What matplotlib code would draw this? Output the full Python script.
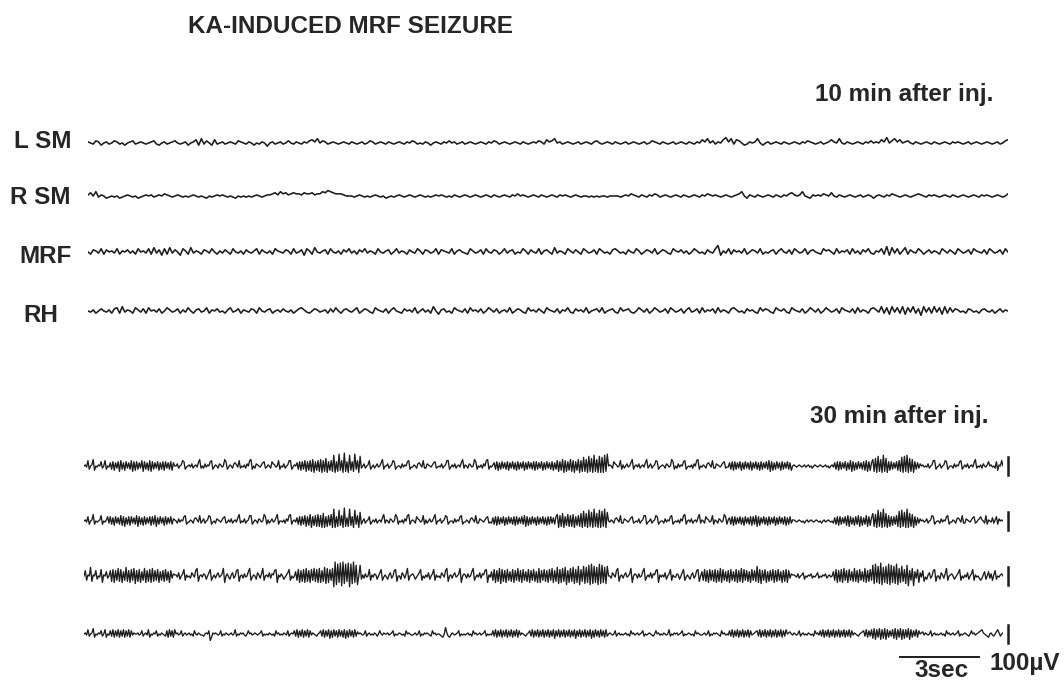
import numpy as np
import matplotlib.pyplot as plt

plt.rcParams['font.family'] = ['Liberation Sans', 'DejaVu Sans']

title = "KA-INDUCED MRF SEIZURE"
channels = ["L SM", "R SM", "MRF", "RH"]
panel_titles = ["10 min after inj.", "30 min after inj."]
duration_s = 35.0      # length of each sweep
cal_uv = 100           # vertical calibration
cal_s = 3              # horizontal calibration
step_uv = 6            # one letter step in the trace strings, 'm' = 0 uV

# traces, one letter per sample (a = -12 steps ... z = +13 steps)
# 10 min sweeps: 350 samples each
early_lsm = ("nmlonkmnlm" "onlmkmnolm" "nmlmnolkmn" "lmnomlmnkm" "npkqlomkpl"
             "mnlmnmlonm" "lnmkmlnmjm" "nlmnlmomln" "mlnmopnqmo" "nlmnmlmnml"
             "nmlmnlmonl" "mnmlnmlmnm" "lnmonlmlnm" "kmnmlnmomn" "lmnlmnmlmn"
             "mlnmonlmnm" "lmnmlnmlmn" "monlpnoqmn" "lmnmlmnlmn" "mlnomlmnml"
             "nmlmnlmnml" "mnlmonmlnm" "lmnlmnmlnm" "lnmpnqmoln" "mprnqlpomk"
             "lnmnqmkmnl" "mnmlnmlmnm" "lnmonmlmnl" "mnpnmqmlnm" "lmnmlnmomn"
             "mpnrmoqnpm" "nomlnmlmnm" "lnmlmnmlnm" "nmlmnlmnml" "mnmlmnlmop")
early_rsm = ("npmqlnmklm" "lmklmnmlmk" "lmnmnlmnmo" "nmlmnmlmlm" "nmlmlkmlmn"
             "mnmlmlkmlm" "lmlmnmlmnn" "opnqopnopo" "onpoopnooq" "prqpooonmm"
             "mlmnmlmlmn" "mlmklmlmnm" "lmnmlmnmlm" "lmnmnmlmln" "mlmnmlmnml"
             "mnmlnmlmnm" "lnmomnmlmn" "mlnmlmnmln" "mnmlmnmlmm" "lmlmlmmlmm"
             "mmlmnmonml" "nmlnmonlmn" "mlmnmlnmlm" "nmlnmonmnm" "lmnmlmnoqm"
             "knmlnmlmnm" "lnmlnmopnm" "nqmlknmnmo" "nmpmlnmlmn" "mlmnlmnmkm"
             "nmlnmonmlm" "nmlmnonmln" "mnmlmnmlnm" "lmnmlmnmln" "mnmlmnmlmo")
early_mrf = ("mkonlpkomn" "lpknmolnkp" "mnlpkqlojp" "kqlomjpnkq" "lnmkonlpmk"
             "nlomkpmlnk" "omlnpkomln" "kpnmlonkpl" "mojpnkqmln" "okpmlnkomp"
             "lnkomplnmk" "pmlnokmpln" "mkomlpnkon" "lmpkonmlpk" "nomlkpnlmo"
             "kpmlonkmpl" "nokmlpnkom" "lpknomkqln" "mkpnlomkpn" "lmokpnlmko"
             "pnlmkomlpn" "kmonlpkmon" "lkpnmolnkm" "pnlmkomlps" "jnlpkomnlp"
             "kmonlpkmln" "oknpmlokpn" "lmpknomlkp" "nomkplnmok" "plnkomplkn"
             "mpkrjqlpkn" "qkomlpnkmo" "lnmkpnlomk" "pnlmokpnml" "okpnlmokpm")
early_rh = ("mlnkmomlnk" "opkqlnmkpn" "lokpmnlokm" "pnlmoknlpm" "knolmpknmo"
            "lmknplmokn" "mlonkpmlno" "kmnlomlnkm" "opnlkmonlm" "nkolpmknom"
            "lnpkmonlkp" "nmloknpmlk" "omnlpkmoln" "kqmjnolmkp" "nmlokpmnlo"
            "kmpnlokmnl" "pkmonlkpmn" "lomkpnmlok" "nmplkomnlp" "kmnolpkmno"
            "lkpmnolkmp" "nlokmpnlmo" "kpnlmoknpl" "mokplnmokp" "lnmkopnlmk"
            "omnlkpmonl" "kpnmolkpnm" "lokmpnlokm" "pnlmokpnml" "okplnmkopn"
            "lqkpjqlpkq" "jplqkoiqlp" "kqlpjqkplo" "nlmkonlmkn" "omlnkmolnm")

# 30 min sweeps: 700 samples each (denser, to hold the bursts)
late_lsm = ("mnlrjmnsim" "lnmqkmrjml" "pjqipkqhrj" "piqkpjrhqi" "qjpkrhqjpi"
            "rhqjpkqipj" "qiqkpjqipm" "mokmnrqjlm" "nlokmnlpsk" "mkolnmqrjl"
            "nmkonlmsqj" "lnmkopnlrk" "mlnkomrsjm" "konmlnpqkl" "nmkqonlmrj"
            "mlokmnrrjl" "nmpjqiqjrh" "qirhsgqirh" "sgrhtgqirh" "wgqhxirgyh"
            "qgwiqhxjrg" "vkmokmnrjl" "nkmolmpsjm" "mokmnrqjlm" "mkolnmqrjl"
            "lnmkopnlrk" "konmlnpqkl" "mlokmnrrjl" "nlokmnlpsk" "nmkonlmsqj"
            "mlnkomrsjm" "lnpjqipjqk" "pjqipkqjpi" "qjpkqipjqk" "pjqiqjpkqi"
            "pjqkpjqipj" "rhqisgrhqi" "shrgqisgrh" "uhsgvhtgwh" "sgvgugwhxm"
            "nmkqonlmrj" "nkmolmpsjm" "nlokmnlpsk" "mokmnrqjlm" "nmkonlmsqj"
            "mkolnmqrjl" "mlnkomrsjm" "lnmkopnlrk" "konmlnpqkl" "lpjqiqjpkq"
            "ipjqkpjqip" "kqjpiqjpkq" "jrhqipjqkp" "iqjpkqjpim" "nmlmnmlmnl"
            "mnlmkmnmlm" "nmlmnlmkmn" "lpjqiqjpkq" "ipjrhqipjq" "kpjqirhqip"
            "shtgvhsgwh" "tgqiqjpkqi" "rhugvhwgth" "sgqjpkomnl" "mlokmnrrjl"
            "mokmnrqjlm" "mkolnmqrjl" "nlokmnlpsk" "mlnkomlnqm" "nlmkqinmrm")
late_rsm = ("mnlqjmnsjm" "lmnrjmlnqk" "qjpiqkpjri" "qhpjqiqkpj" "rhqjpiqjpk"
            "qiqjrhpjqk" "piqjpkqjon" "mkolnmqrjl" "lnmkopnlrk" "mokmnrqjlm"
            "konmlnpqkl" "nlokmnlpsk" "mlokmnrrjl" "nmkonlmsqj" "nkmolmpsjm"
            "mlnkomrsjm" "nlpjqiqjrh" "qisgqirhsh" "rgtgqhrisg" "xgqhwirgyh"
            "phxiqgwjrg" "ujmokmnqjl" "nlokmnlpsk" "nmkonlmsqj" "mlnkomrsjm"
            "nmkqonlmrj" "nkmolmpsjm" "mokmnrqjlm" "mkolnmqrjl" "lnmkopnlrk"
            "konmlnpqkl" "kpjqiqjpkq" "ipjqkpjqiq" "jpkqjrhqip" "jqkpiqjpkq"
            "jpiqjqkpjq" "sgrhtgqish" "rhsgqirhtg" "vhtgwhugxh" "tgwgvhxgum"
            "lnmkopnlrk" "konmlnpqkl" "mlokmnrrjl" "mokmnrqjlm" "mkolnmqrjl"
            "mlnkomrsjm" "nlokmnlpsk" "nmkqonlmrj" "nmkonlmsqj" "npjqiqjpkq"
            "jpiqkpjqiq" "jrhqipkqjp" "iqjpkqipjq" "kpjqipjqkn" "nmlmnmlmkm"
            "nlmnmlmnml" "mkmnlmnmlm" "kpjqiqjpkq" "irhqjpiqjr" "hqipjrhqip"
            "thsgwhugxh" "tgrhqiqjrh" "vgwhugxgth" "sgqipkomnl" "mokmnrqjlm"
            "mkolnmqrjl" "lnmkopnlrk" "konmlnpqkl" "noqnmkrjnm" "lpknqjomnm")
late_mrf = ("mrinmuhnmr" "jmlsgnmqkm" "rhsgrithsg" "qiuhrgsitf" "rhsgqitgrh"
            "sgthrisgqi" "rhsiqgrkon" "nlpjmosinl" "mkpnlrthmn" "lonjmpsiln"
            "knplmotgmo" "ljnpkmrshm" "nkolmqtiln" "mjpnkotimn" "lpkonrsgnl"
            "omjlnpsimk" "mqisgrhsgt" "hrgsithsgt" "grhuftgsit" "czexgydzfx"
            "hycxfzgwem" "wjnkolmsin" "lonjmpsiln" "ljnpkmrshm" "mjpnkotimn"
            "omjlnpsimk" "nlpjmosinl" "mkpnlrthmn" "knplmotgmo" "nkolmqtiln"
            "lpkonrsgnl" "qisgrhtfsh" "rgsiqhsgri" "thrgsiqhsg" "rishqgtgri"
            "shrgsitgrh" "ufsgthuerg" "thufsgvesh" "vfugwexfvg" "uexfwgufvm"
            "mkpnlrthmn" "knplmotgmo" "nkolmqtiln" "lpkonrsgnl" "nlpjmosinl"
            "lonjmpsiln" "ljnpkmrshm" "qishrgsirh" "sgrhtgsiqh" "rgsiqhsgrh"
            "tgsirhqgsi" "rhvgsfrisg" "qhrisgrhsi" "qgrhsgrkon" "nmlokmnpjm"
            "lnmokmlnpk" "mlnmokmnlm" "qisgrhsgti" "rgsiqhthrg" "siqhtgrhsi"
            "wfxgvfyeug" "vfxewgvfxe" "tgvhsfwdri" "tdqksgplrh" "ljnpkmrshm"
            "mjpnkotimn" "omjlnpsimk" "nlpjmosinl" "mkiknqjmqk" "oinrjmlnom")
late_rh = ("mnlqkmnrjm" "lnmpkmqjml" "pkqjpkqjpk" "qjpkqjplnm" "mnlmpkmnlq"
           "jmlnmpkmln" "mlkpjqkpjq" "mnlmpkmnlm" "nlmkpmlnml" "lkmnmpgjnm"
           "nmlmpkmlnm" "lmnlmqkmln" "mnlkmpmnlm" "nmlmnpkmlm" "lnmlmkpmnl"
           "mlnmlpkmnm" "pkqjpkqjpk" "qjplnmlkmn" "pkqjpkqipj" "qkpjqkpjqi"
           "pjqkpjqkom" "nmlmpkmnlm" "lnmkmpmlnm" "mnlmnpkmlm" "nmlmkpmnml"
           "lmnlmpkmln" "mnmlkpmnlm" "mlkjmsnkjl" "nmlmnpkmlm" "lmnlmkpmnl"
           "mnlmnpkmlm" "lpkqjpkqjp" "kqjpkqjpkq" "jplnmlkmnp" "kqjpkqjpkq"
           "jpkqjpkqip" "kqjpkqjpkq" "jpkqipkqjp" "kqjpkqipjq" "kpjqkpjqkm"
           "nmlmpkmnlm" "lmnlmkpmnl" "mnlmnpkmlm" "nmlkmpmnlm" "lnmlmqkmln"
           "mnlmnpkmlm" "nmlmkpmnml" "lmnlmpkmln" "mnmlkpmnlm" "lpkqjpkqjp"
           "kqjpkqjplm" "nopkqjpkqj" "pkqjpkqjpk" "qjpkqmnoml" "nmlmpkmnlm"
           "lnmlmkpmnl" "pkqjpkqjpk" "qjpkqjpkqj" "pkqjplnmlk" "mnopkqjpkq"
           "irhqjrhqir" "hqjpkqirhq" "jrhqiqjrhq" "jpkqjpmnol" "nmlmpkmnlm"
           "lmnlmkpmnl" "mnlmnpkmlm" "nmlkmpmnlm" "nopqnmlkjm" "nlkmoqnkmn")

early = [early_lsm, early_rsm, early_mrf, early_rh]
late = [late_lsm, late_rsm, late_mrf, late_rh]


def decode(s):
    return (np.array([ord(c) for c in s]) - ord('m')) * step_uv


W, H = 1064, 682
px_per_uv = 18 / cal_uv
fig = plt.figure(figsize=(W / 100, H / 100), dpi=100)
ink = '#1c1c1c'


def px_text(x, y, s, **kw):
    fig.text(x / W, 1 - y / H, s, fontsize=17.5, fontweight='bold',
             color='#262626', **kw)


def trace_axes(x0, x1, y_base, half_px=32):
    ax = fig.add_axes([x0 / W, 1 - (y_base + half_px) / H,
                       (x1 - x0) / W, 2 * half_px / H])
    ax.set_xlim(0, duration_s)
    lim = half_px / px_per_uv
    ax.set_ylim(-lim, lim)
    ax.axis('off')
    return ax


early_base = [143, 196, 252, 311]
late_base = [466, 521, 576, 634]
label_x = [71, 71, 72, 58]
label_base = [148, 204, 263, 322]

for name, sig, yb, lx, lb in zip(channels, early, early_base, label_x, label_base):
    ax = trace_axes(88, 1008, yb)
    v = decode(sig)
    t = np.linspace(0, duration_s, len(v))
    ax.plot(t, v, color=ink, lw=1.15)
    px_text(lx, lb, name, ha='right', va='baseline')

for sig, yb in zip(late, late_base):
    ax = trace_axes(84, 1003, yb)
    v = decode(sig)
    t = np.linspace(0, duration_s, len(v))
    ax.plot(t, v, color=ink, lw=0.95)
    # 100 uV calibration bar just right of the sweep
    xc = duration_s * (1008 - 84) / (1003 - 84)
    ax.plot([xc, xc], [-cal_uv / 2, cal_uv / 2], color=ink, lw=1.8,
            clip_on=False)

# 3 sec time bar under the last sweep
ax = trace_axes(84, 1003, 657, half_px=10)
t_end = duration_s * (979 - 84) / (1003 - 84)
ax.plot([t_end - cal_s, t_end], [0, 0], color=ink, lw=1.4, clip_on=False)

px_text(188, 33, title, ha='left', va='baseline')
px_text(993, 101, panel_titles[0], ha='right', va='baseline')
px_text(988, 423, panel_titles[1], ha='right', va='baseline')
px_text(942, 677, "3sec", ha='center', va='baseline')
px_text(1060, 670, "100\u00b5V", ha='right', va='baseline')

fig.savefig("out.png", dpi=100, facecolor='white')
